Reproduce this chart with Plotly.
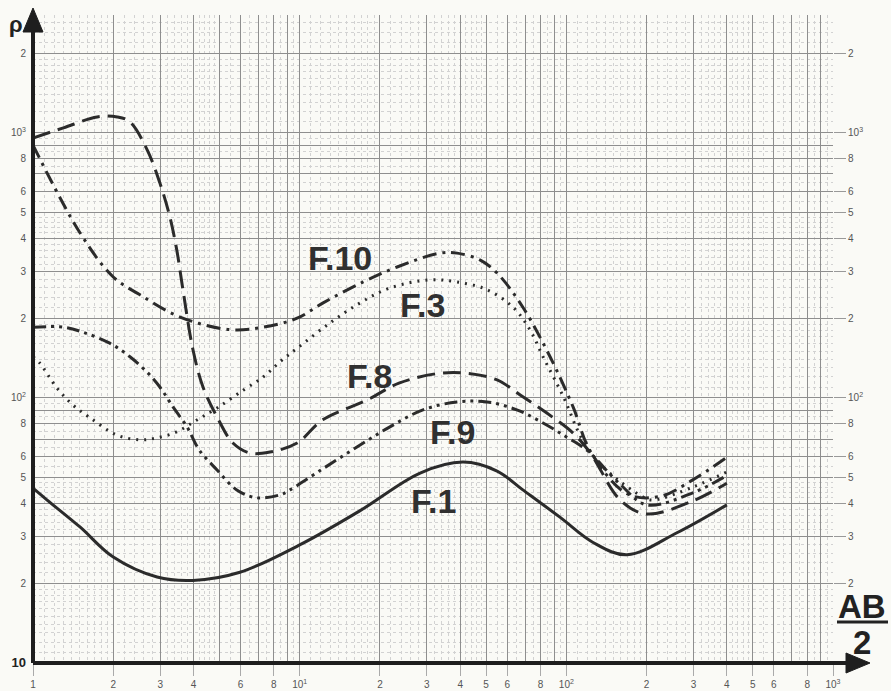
import numpy as np
import plotly.graph_objects as go

# ---------------- data ----------------
F1_x = [1, 1.13, 1.5, 2.0, 2.92, 3.98, 5.97, 10, 16.8, 28.3, 41, 55, 68.7, 94.6, 126, 169, 260, 400]
F1_y = [45.7, 41.2, 32.6, 25.1, 21.1, 20.5, 22.0, 27.9, 37.5, 52.1, 57.3, 53.0, 45.0, 35.5, 28.5, 25.6, 31.0, 39.5]

F10_x = [1, 1.5, 2.0, 2.52, 3.56, 5.48, 7.3, 9.78, 12.2, 17.3, 23.2, 33.6, 38.9, 47.4, 55, 68.7, 86.9, 106, 123, 169, 224, 298, 400]
F10_y = [900, 420, 286, 245, 202, 181, 185, 200, 228, 274, 312, 352, 352, 332, 296, 220, 143, 92.5, 63, 43.5, 42.5, 49.1, 59.8]

F3_x = [1, 1.06, 1.23, 1.41, 1.64, 2.06, 2.52, 2.92, 3.46, 4.12, 4.9, 6.14, 7.3, 8.44, 9.78, 13.0, 16.8, 21.8,
        30.8, 38.9, 50.4, 63.1, 73, 81.8, 97.5, 115, 137, 194, 211, 298, 400]
F3_y = [143, 135.5, 109, 94.2, 84.1, 72.5, 69.5, 70.7, 74.5, 82.6, 91.6, 107, 120, 137, 154, 192, 228, 260,
        279, 274, 256, 220, 181, 143, 101, 69.5, 55, 42.3, 41.2, 46.1, 52.6]

F8_x = [1, 1.30, 1.74, 2.07, 2.31, 2.68, 2.99, 3.26, 3.46, 3.65, 3.98, 4.34, 4.9, 5.62, 6.5, 7.74, 9.78, 12.2,
        17.9, 23.7, 33.6, 42.4, 55, 68.7, 84.5, 106, 123, 160, 200, 300, 400]
F8_y = [957, 1045, 1149, 1149, 1101, 863, 648, 482, 362, 256, 152, 110, 84.8, 67.6, 62, 62.5, 67.6, 82.7,
        98.2, 114, 124, 124, 117, 101, 87.7, 73.7, 62, 41, 36.5, 41, 47.7]

F9_x = [1, 1.30, 1.54, 1.94, 2.31, 2.68, 2.99, 3.35, 3.78, 4.2, 4.9, 5.81, 6.9, 8.44, 9.2, 12.2, 16.4, 21.8,
        29, 38.9, 50.4, 65.2, 81.8, 100, 119, 160, 200, 300, 400]
F9_y = [185, 185, 177, 161, 143, 125, 110, 92.5, 77.8, 63.7, 53.5, 45, 42, 43.1, 45, 54, 65.3, 77.8,
        90.2, 96.6, 96.6, 90.2, 80.5, 71.3, 63.7, 47, 39.5, 44, 51]

curve_names = ["F.1", "F.10", "F.3", "F.8", "F.9"]

# tick labels (labelled positions)
x_tick_vals = [1, 2, 3, 4, 6, 8,
               10, 20, 30, 40, 50, 60, 80,
               100, 200, 300, 400, 500, 600, 800, 1000]
x_tick_text = ["1", "2", "3", "4", "6", "8",
               "10<sup>1</sup>", "2", "3", "4", "5", "6", "8",
               "10<sup>2</sup>", "2", "3", "4", "5", "6", "8", "10<sup>3</sup>"]
y_tick_vals = [10, 20, 30, 40, 50, 60, 80,
               100, 200, 300, 400, 500, 600, 800, 1000, 2000]
y_tick_text = ["<span style='font-size:13px;color:#222'><b>10</b></span>", "2", "3", "4", "5", "6", "8",
               "10<sup>2</sup>", "2", "3", "4", "5", "6", "8", "10<sup>3</sup>", "2"]
y_tick_vals_r = [20, 30, 40, 50, 60, 80, 100, 200, 300, 400, 500, 600, 800, 1000, 2000]
y_tick_text_r = ["2", "3", "4", "5", "6", "8",
                 "10<sup>2</sup>", "2", "3", "4", "5", "6", "8", "10<sup>3</sup>", "2"]
# unlabelled main lines of the log paper
x_plain_vals = [5, 7, 9, 70, 90, 700, 900]
y_plain_vals = [70, 90, 700, 900]

# ---------------- minor grid of the log paper ----------------
def minor_vals(decades):
    vals = []
    for d in decades:
        for m in np.concatenate([np.arange(1.1, 2.0, 0.1), np.arange(2.2, 5.0, 0.2), np.arange(5.5, 10.0, 0.5)]):
            if abs(m - round(m)) > 1e-6:
                vals.append(float(m * d))
    return vals

x_minor = minor_vals([1, 10, 100])
y_minor = minor_vals([10, 100, 1000])

INK = "#2b2b2b"
MAJOR = "#8e8e8e"
MINOR = "#d2d2d2"
fig = go.Figure()

styles = {
    "F.1": dict(dash="solid", width=3),
    "F.10": dict(dash="14px,6px,3px,6px", width=3),
    "F.3": dict(dash="2px,6px", width=3),
    "F.8": dict(dash="18px,8px", width=3),
    "F.9": dict(dash="13px,5px,3px,5px,3px,5px", width=3),
}
data = {"F.1": (F1_x, F1_y), "F.10": (F10_x, F10_y), "F.3": (F3_x, F3_y),
        "F.8": (F8_x, F8_y), "F.9": (F9_x, F9_y)}
for name in curve_names:
    xs, ys = data[name]
    fig.add_trace(go.Scatter(x=xs, y=ys, mode="lines", name=name,
                             line=dict(color=INK, shape="spline", smoothing=1.0, **styles[name]),
                             showlegend=False))

# invisible anchors for the extra axes
fig.add_trace(go.Scatter(x=[1], y=[10], yaxis="y2", mode="markers",
                         marker=dict(opacity=0), showlegend=False, hoverinfo="skip"))
fig.add_trace(go.Scatter(x=[1], y=[10], xaxis="x2", yaxis="y3", mode="markers",
                         marker=dict(opacity=0), showlegend=False, hoverinfo="skip"))

X_RANGE = [0, 3]
Y_RANGE = [1, 3.445]
tickfont = dict(family="Liberation Sans, Arial, sans-serif", size=10, color="#555")

W, H = 891, 691
ML, MR, MT, MB = 33, 58, 15, 28
PW, PH = W - ML - MR, H - MT - MB


def px(xp):
    return (xp - ML) / PW


def py(yp):
    return (H - MB - yp) / PH


fig.update_layout(
    width=W, height=H,
    margin=dict(l=ML, r=MR, t=MT, b=MB, autoexpand=False),
    paper_bgcolor="#fafaf6", plot_bgcolor="#fafaf6",
    xaxis=dict(type="log", range=X_RANGE, tickmode="array", tickvals=x_tick_vals, ticktext=x_tick_text,
               showgrid=True, gridcolor=MAJOR, gridwidth=1, zeroline=False, showline=False, automargin=False,
               ticks="outside", ticklen=12, tickcolor="#aaa", tickfont=tickfont,
               minor=dict(tickmode="array", tickvals=x_minor, showgrid=True, gridcolor=MINOR,
                          griddash="dot", gridwidth=1, ticks="")),
    xaxis2=dict(type="log", range=X_RANGE, overlaying="x", anchor="y", tickmode="array",
                tickvals=x_plain_vals, showticklabels=False, ticks="", showgrid=True, gridcolor=MAJOR,
                gridwidth=1, zeroline=False, showline=False, automargin=False),
    yaxis=dict(type="log", range=Y_RANGE, tickmode="array", tickvals=y_tick_vals, ticktext=y_tick_text,
               showgrid=True, gridcolor=MAJOR, gridwidth=1, zeroline=False, showline=False, automargin=False,
               ticks="", tickfont=tickfont, ticklabelstandoff=6,
               minor=dict(tickmode="array", tickvals=y_minor, showgrid=True, gridcolor=MINOR,
                          griddash="dot", gridwidth=1, ticks="")),
    yaxis2=dict(type="log", range=Y_RANGE, overlaying="y", side="right", tickmode="array",
                tickvals=y_tick_vals_r, ticktext=y_tick_text_r, showgrid=False, zeroline=False,
                showline=False, ticks="outside", ticklen=12, tickcolor="#999", tickfont=tickfont,
                automargin=False),
    yaxis3=dict(type="log", range=Y_RANGE, overlaying="y", anchor="x", tickmode="array",
                tickvals=y_plain_vals, showticklabels=False, ticks="", showgrid=True, gridcolor=MAJOR,
                gridwidth=1, zeroline=False, showline=False, automargin=False),
)

AX = "#1e1e1e"
# axes lines
fig.add_shape(type="line", xref="paper", yref="paper", x0=px(33), y0=py(663), x1=px(33), y1=py(28),
              line=dict(color=AX, width=4), layer="above")
fig.add_shape(type="line", xref="paper", yref="paper", x0=px(33), y0=py(663), x1=px(852), y1=py(663),
              line=dict(color=AX, width=4), layer="above")
# arrow heads
fig.add_shape(type="path", xref="paper", yref="paper", layer="above",
              path=f"M {px(33)} {py(8)} L {px(23)} {py(32)} L {px(43)} {py(32)} Z",
              fillcolor=AX, line=dict(color=AX, width=1))
fig.add_shape(type="path", xref="paper", yref="paper", layer="above",
              path=f"M {px(870)} {py(663)} L {px(846)} {py(653)} L {px(846)} {py(673)} Z",
              fillcolor=AX, line=dict(color=AX, width=1))

BOLD = "Liberation Sans, Arial, sans-serif"
# axis titles
fig.add_annotation(xref="paper", yref="paper", x=px(16), y=py(25), text="<b>ρ</b>", showarrow=False,
                   xanchor="center", yanchor="middle", font=dict(family=BOLD, size=22, color="#222"))
fig.add_annotation(xref="paper", yref="paper", x=px(862), y=py(606), text="<b>AB</b>", showarrow=False,
                   xanchor="center", yanchor="middle", font=dict(family=BOLD, size=33, color="#222"))
fig.add_shape(type="line", xref="paper", yref="paper", x0=px(837), y0=py(622), x1=px(888), y1=py(622),
              line=dict(color="#222", width=3))
fig.add_annotation(xref="paper", yref="paper", x=px(862), y=py(642), text="<b>2</b>", showarrow=False,
                   xanchor="center", yanchor="middle", font=dict(family=BOLD, size=33, color="#222"))

# curve labels (pixel centres)
label_px = {"F.10": (340, 258), "F.3": (422, 305), "F.8": (369, 376),
            "F.9": (452, 432), "F.1": (433, 501)}
for name in curve_names:
    lx, ly = label_px[name]
    fig.add_annotation(xref="paper", yref="paper", x=px(lx), y=py(ly), text="<b>" + name + "</b>",
                       showarrow=False, xanchor="center", yanchor="middle",
                       font=dict(family=BOLD, size=34, color="#303030"))

fig.write_html("out.html", config={"displayModeBar": False},
               post_script="document.body.style.margin='0';document.body.style.overflow='hidden';")
